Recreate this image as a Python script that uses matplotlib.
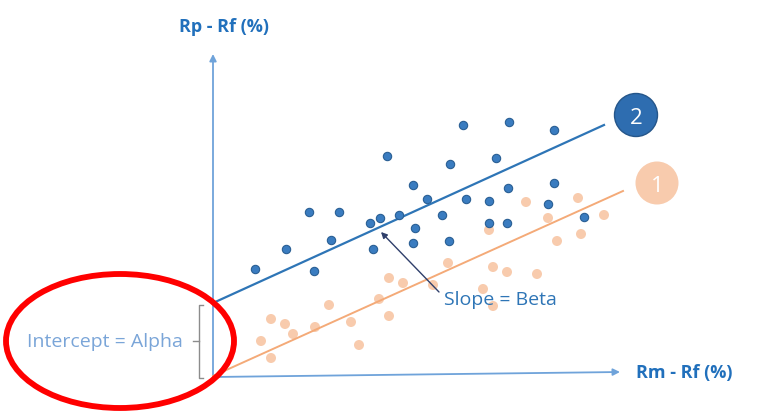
import matplotlib
matplotlib.use("Agg")
import matplotlib.pyplot as plt
from matplotlib.patches import Ellipse, Circle

plt.rcParams['font.family'] = ['Open Sans', 'DejaVu Sans']

# Portfolio 2 (blue) excess returns: market excess (x) vs portfolio excess (y)
blue_x = [42, 73, 96, 101, 118, 126, 157, 167, 160, 174, 186, 200, 202, 200, 214,
          229, 236, 237, 250, 253, 276, 276, 283, 294, 295, 296, 335, 341, 341, 371]
blue_y = [107, 127, 164, 105, 136, 164, 153, 158, 127, 220, 161, 191, 148, 133, 177,
          161, 135, 212, 251, 177, 175, 153, 218, 153, 188, 254, 172, 246, 193, 159]

# Portfolio 1 (orange)
orange_x = [313, 365, 335, 391, 276, 344, 368, 235, 280, 294, 324, 176, 190, 220,
            270, 166, 280, 58, 72, 80, 48, 58, 102, 116, 138, 146, 176]
orange_y = [174, 178, 158, 161, 146, 135, 142, 113, 109, 104, 102, 98, 93, 91,
            87, 77, 70, 57, 52, 42, 35, 18, 49, 71, 54, 31, 60]

# Regression lines (start, end)
line2_x = [0, 391]
line2_y = [73, 251]
line1_x = [0, 410]
line1_y = [0, 185]

fig = plt.figure(figsize=(7.68, 4.14), dpi=100)
ax = fig.add_axes([0, 0, 1, 1])
ax.set_xlim(-213, 555)
ax.set_ylim(-37, 377)
ax.axis('off')

axis_col = '#6FA3DA'
# axes arrows
ax.annotate('', xy=(0, 322), xytext=(0, 0),
            arrowprops=dict(arrowstyle='-|>', color=axis_col, lw=1.3,
                            mutation_scale=10, shrinkA=0, shrinkB=0))
ax.annotate('', xy=(407, 4), xytext=(0, -1),
            arrowprops=dict(arrowstyle='-|>', color=axis_col, lw=1.3,
                            mutation_scale=10, shrinkA=0, shrinkB=0))

# regression lines
ax.plot(line2_x, line2_y, color='#2E75B6', lw=1.6, zorder=3)
ax.plot(line1_x, line1_y, color='#F4AA78', lw=1.4, zorder=3)

# scatter points
ax.scatter(orange_x, orange_y, s=52, color='#F8CBAD', edgecolor='none', zorder=2)
ax.scatter(blue_x, blue_y, s=36, color='#3A7CC0', edgecolor='#2A5F94',
           linewidth=0.8, zorder=4)

# numbered circles
c2 = Circle((423, 261), 21.5, facecolor='#2E6DB0', edgecolor='#25568A', lw=1, zorder=5)
c1 = Circle((444, 193), 21.5, facecolor='#F8CBAD', edgecolor='none', zorder=5)
ax.add_patch(c2)
ax.add_patch(c1)
ax.text(423, 261, '2', color='white', fontsize=16, ha='center', va='center_baseline', zorder=6)
ax.text(444, 193, '1', color='white', fontsize=16, ha='center', va='center_baseline', zorder=6)

# slope arrow
ax.annotate('', xy=(168, 144), xytext=(226, 84),
            arrowprops=dict(arrowstyle='-|>', color='#2F3F6B', lw=1.0,
                            mutation_scale=9, shrinkA=0, shrinkB=0), zorder=5)
ax.text(287, 77, 'Slope = Beta', color='#2E75B6', fontsize=14,
        ha='center', va='center', zorder=6)

# bracket
bc = '#8C8C8C'
ax.plot([-10, -14, -14, -10], [71, 71, -2, -2], color=bc, lw=1.0)
ax.plot([-20, -14], [35, 35], color=bc, lw=1.0)

ax.text(-108, 35, 'Intercept = Alpha', color='#7AA5D8', fontsize=14,
        ha='center', va='center')

# red ellipse
ax.add_patch(Ellipse((-93, 35), 228, 134, fill=False, edgecolor='#FF0000', lw=4.2, zorder=7))

# axis titles
ax.text(11, 350, 'Rp - Rf (%)', color='#2170BC', fontsize=13, fontweight='bold',
        ha='center', va='center')
ax.text(471, 4, 'Rm - Rf (%)', color='#2170BC', fontsize=13, fontweight='bold',
        ha='center', va='center')

fig.savefig('out.png', dpi=100)
